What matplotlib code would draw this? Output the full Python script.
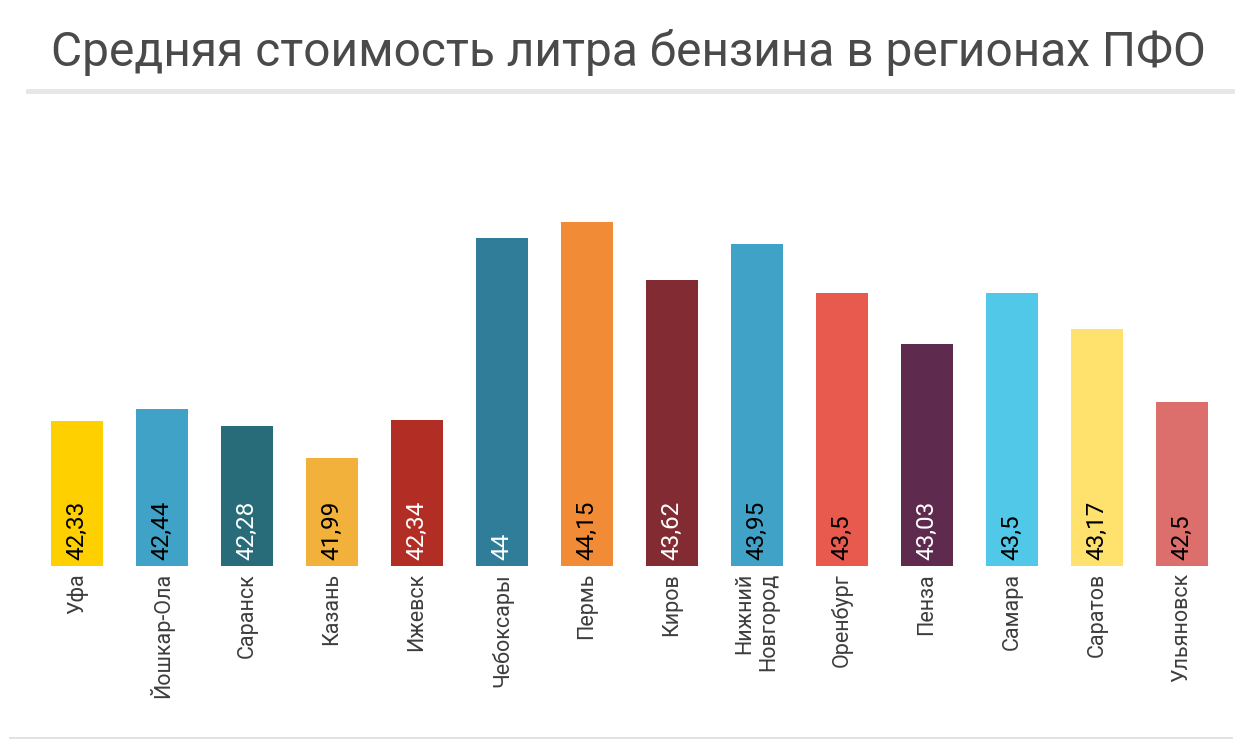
import matplotlib
matplotlib.use("Agg")
import matplotlib.pyplot as plt
from matplotlib.lines import Line2D

plt.rcParams['font.family'] = ['Roboto', 'DejaVu Sans']

cities = ["Уфа", "Йошкар-Ола", "Саранск", "Казань", "Ижевск", "Чебоксары", "Пермь",
          "Киров", "Нижний\nНовгород", "Оренбург", "Пенза", "Самара", "Саратов", "Ульяновск"]
prices = [42.33, 42.44, 42.28, 41.99, 42.34, 44.00, 44.15,
          43.62, 43.95, 43.50, 43.03, 43.50, 43.17, 42.50]
colors = ["#FFD000", "#41A2C8", "#286B79", "#F2B13A", "#B22D24", "#2F7D98", "#F28B35",
          "#832B33", "#41A2C8", "#E8594E", "#5E2A4E", "#52C8E8", "#FFE26E", "#DC6E6B"]
label_colors = ["black", "black", "white", "black", "white", "white", "black",
                "white", "black", "black", "white", "black", "black", "black"]

W, H = 1256, 751
fig = plt.figure(figsize=(W / 100, H / 100), dpi=100)
fig.patch.set_facecolor("white")

ymin, ymax = 41.0, 44.5
ax = fig.add_axes([34.5 / W, 1 - 566 / H, (1224.5 - 34.5) / W, (566 - 183.4) / H])
x = list(range(len(cities)))
ax.bar(x, [p - ymin for p in prices], bottom=ymin, width=0.61, color=colors)
ax.set_xlim(-0.5, len(cities) - 0.5)
ax.set_ylim(ymin, ymax)
for s in ax.spines.values():
    s.set_visible(False)
ax.set_yticks([])
ax.set_xticks(x)
ax.set_xticklabels(cities, rotation=90, fontsize=15.5, color="#3d3d3d",
                   multialignment="right")
ax.tick_params(axis="x", length=0, pad=5)

for i, (p, c) in enumerate(zip(prices, label_colors)):
    txt = f"{p:g}".replace(".", ",")
    ax.annotate(txt, xy=(i, ymin), xytext=(0, 4), textcoords="offset points",
                rotation=90, ha="center", va="bottom", fontsize=17.5,
                fontweight="normal", color=c)

fig.text(0.5, 1 - 52 / H, "Средняя стоимость литра бензина в регионах ПФО",
         ha="center", va="center", fontsize=34.5, color="#4a4a4a")

fig.add_artist(Line2D([28 / W, 1232 / W], [1 - 91 / H, 1 - 91 / H],
                      color="#e6e6e6", linewidth=3.5, transform=fig.transFigure))
fig.add_artist(Line2D([10 / W, 1232 / W], [1 - 738 / H, 1 - 738 / H],
                      color="#dcdcdc", linewidth=1.2, transform=fig.transFigure))

fig.savefig("out.png", dpi=100)
